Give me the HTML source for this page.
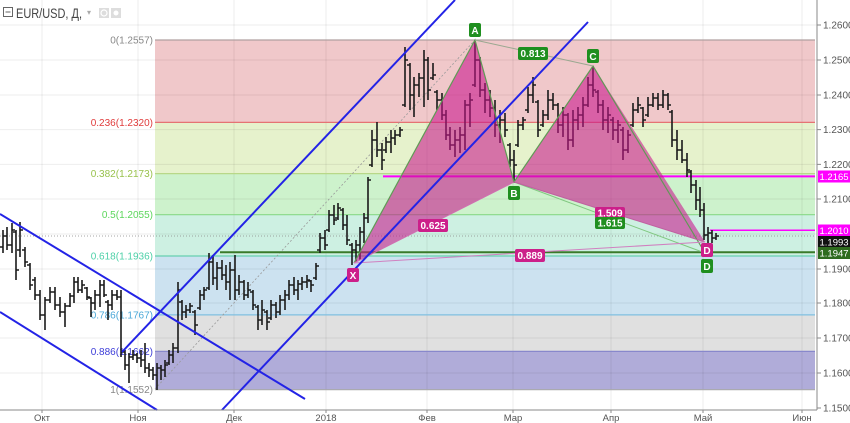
<!DOCTYPE html>
<html><head><meta charset="utf-8"><style>
html,body{margin:0;padding:0;background:#fff;}
svg{display:block;font-family:"Liberation Sans","Noto Sans CJK JP",sans-serif;}
</style></head><body>
<svg width="850" height="423" viewBox="0 0 850 423" xmlns="http://www.w3.org/2000/svg">
<rect width="850" height="423" fill="#fff"/>
<rect x="155" y="40" width="660" height="82.4" fill="#f0c8ca"/>
<rect x="155" y="122.4" width="660" height="51.2" fill="#e6f2cc"/>
<rect x="155" y="173.6" width="660" height="41.1" fill="#cdf2cc"/>
<rect x="155" y="214.7" width="660" height="41.3" fill="#cdf0e2"/>
<rect x="155" y="256" width="660" height="58.9" fill="#cce2f0"/>
<rect x="155" y="314.9" width="660" height="36.5" fill="#e0e0e0"/>
<rect x="155" y="351.4" width="660" height="38.3" fill="#b0acd9"/>
<g stroke="#000" stroke-opacity="0.07" stroke-width="1">
<path d="M42 0V410M138 0V410M234 0V410M326 0V410M427 0V410M513 0V410M611 0V410M703 0V410M802 0V410"/>
<path d="M0 25H817M0 60H817M0 95H817M0 129.6H817M0 164.4H817M0 199H817M0 234H817M0 269H817M0 303H817M0 338H817M0 373H817"/>
</g>
<g stroke-width="1.2">
<line x1="155" y1="40" x2="815" y2="40" stroke="#b0a0a0"/>
<line x1="155" y1="122.4" x2="815" y2="122.4" stroke="#e57373"/>
<line x1="155" y1="173.6" x2="815" y2="173.6" stroke="#b8d888"/>
<line x1="155" y1="214.7" x2="815" y2="214.7" stroke="#88d888"/>
<line x1="155" y1="256" x2="815" y2="256" stroke="#66d0b0"/>
<line x1="155" y1="314.9" x2="815" y2="314.9" stroke="#80c0e0"/>
<line x1="155" y1="351.4" x2="815" y2="351.4" stroke="#8888cc"/>
<line x1="155" y1="389.7" x2="815" y2="389.7" stroke="#aaaaaa"/>
</g>
<g font-size="10" text-anchor="end">
<text x="153" y="43.5" fill="#888">0(1.2557)</text>
<text x="153" y="126" fill="#e03c3c">0.236(1.2320)</text>
<text x="153" y="177" fill="#99c24d">0.382(1.2173)</text>
<text x="153" y="218" fill="#5cd65c">0.5(1.2055)</text>
<text x="153" y="259.5" fill="#4dd0a8">0.618(1.1936)</text>
<text x="153" y="318.5" fill="#4aa8d8">0.786(1.1767)</text>
<text x="153" y="355" fill="#3c3cd8">0.886(1.1662)</text>
<text x="153" y="393" fill="#888">1(1.1552)</text>
</g>
<line x1="155" y1="389" x2="475" y2="40" stroke="#999" stroke-width="0.8" stroke-dasharray="2,2"/>
<line x1="0" y1="236" x2="815" y2="236" stroke="#888" stroke-width="0.8" stroke-dasharray="1,2"/>
<line x1="220" y1="252.2" x2="815" y2="252.2" stroke="#3a7a2a" stroke-width="2"/>
<line x1="383" y1="176.4" x2="815" y2="176.4" stroke="#ff00ff" stroke-width="2"/>
<line x1="710" y1="230.3" x2="815" y2="230.3" stroke="#ff00ff" stroke-width="1.5"/>
<path fill="none" stroke="#1a1a1a" stroke-width="1.6" d="M3 230V253M0 247H3M3 236H6 M7 227V250M4 236H7M7 245H10 M12 223V253M9 245H12M12 230H15 M16 230V280M13 232H16M16 270H19 M20 222V257M17 250H20M20 230H23 M25 247V267M22 250H25M25 262H28 M30 263V290M27 265H30M30 285H33 M35 277V300M32 280H35M35 295H38 M40 290V320M37 295H40M40 315H43 M45 297V330M42 315H45M45 300H48 M50 287V303M47 300H50M50 292H53 M55 287V310M52 292H55M55 305H58 M60 297V317M57 305H60M60 312H63 M65 303V327M62 312H65M65 306H68 M70 293V307M67 306H70M70 296H73 M74 277V303M71 296H74M74 282H77 M78 277V293M75 282H78M78 290H81 M82 280V293M79 290H82M82 285H85 M87 287V300M84 288H87M87 297H90 M91 297V317M88 298H91M91 303H94 M95 290V310M92 303H95M95 295H98 M100 280V307M97 295H100M100 285H103 M104 280V297M101 285H104M104 295H107 M108 300V320M105 302H108M108 305H111 M112 290V310M109 305H112M112 295H115 M117 290V300M114 295H117M117 297H120 M121 290V357M118 297H121M121 352H124 M125 350V370M122 352H125M125 365H128 M129 353V383M126 365H129M129 357H132 M133 350V360M130 357H133M133 355H136 M137 353V363M134 355H137M137 358H140 M141 350V367M138 358H141M141 360H144 M145 343V373M142 360H145M145 368H148 M149 363V377M146 368H149M149 370H152 M153 367V380M150 370H153M153 375H156 M157 363V390M154 375H157M157 368H160 M161 365V380M158 368H161M161 370H164 M165 360V377M162 370H165M165 365H168 M169 350V365M166 363H169M169 355H172 M173 343V363M170 355H173M173 348H176 M178 282V353M175 348H178M178 290H181 M182 300V320M179 302H182M182 312H185 M186 305V318M183 312H186M186 310H189 M190 303V313M187 310H190M190 306H193 M195 310V335M192 312H195M195 325H198 M200 290V310M197 308H200M200 295H203 M204 287V300M201 295H204M204 290H207 M209 253V290M206 288H209M209 262H212 M213 255V285M210 262H213M213 278H216 M217 262V290M214 278H217M217 268H220 M222 260V280M219 268H222M222 275H225 M226 265V290M223 275H226M226 282H229 M230 262V300M227 282H230M230 270H233 M235 255V300M232 270H235M235 290H238 M239 275V295M236 290H239M239 282H242 M244 280V300M241 282H244M244 295H247 M248 282V298M245 295H248M248 290H251 M253 290V310M250 292H253M253 305H256 M258 305V330M255 307H258M258 320H261 M262 300V325M259 320H262M262 310H265 M267 310V330M264 312H267M267 322H270 M271 300V320M268 318H271M271 305H274 M276 302V318M273 305H276M276 312H279 M280 295V315M277 312H280M280 300H283 M285 290V310M282 300H285M285 295H288 M289 280V300M286 295H289M289 285H292 M294 277V295M291 285H294M294 290H297 M298 280V300M295 290H298M298 284H301 M302 277V290M299 284H302M302 282H305 M307 275V288M304 282H307M307 280H310 M311 280V292M308 281H311M311 285H314 M316 263V280M313 278H316M316 266H319 M320 233V253M317 250H320M320 238H323 M325 230V250M322 238H325M325 245H328 M329 210V232M326 230H329M329 215H332 M334 205V225M331 215H334M334 220H337 M338 203V220M335 218H338M338 208H341 M343 208V230M340 210H343M343 225H346 M347 215V245M344 225H347M347 240H350 M352 243V265M349 245H352M352 250H355 M356 240V262M353 250H356M356 245H359 M360 227V260M357 245H360M360 232H363 M364 213V243M361 232H364M364 218H367 M368 177V223M365 218H368M368 180H371 M372 130V167M369 165H372M372 140H375 M377 122V157M374 140H377M377 150H380 M382 143V170M379 150H382M382 160H385 M386 137V153M383 150H386M386 142H389 M391 130V153M388 142H391M391 138H394 M395 130V145M392 138H395M395 135H398 M400 127V137M397 135H400M400 130H403 M405 47V107M402 105H405M405 60H408 M410 63V110M407 65H410M410 95H413 M414 77V117M411 95H414M414 85H417 M419 73V97M416 85H419M419 78H422 M424 50V107M421 78H424M424 60H427 M428 57V100M425 60H428M428 90H431 M433 63V80M430 78H433M433 75H436 M437 90V110M434 92H437M437 100H440 M442 93V120M439 100H442M442 115H445 M446 110V140M443 115H446M446 135H449 M450 127V150M447 135H450M450 145H453 M455 130V157M452 145H455M455 140H458 M460 127V153M457 140H460M460 135H463 M465 100V150M462 135H465M465 105H468 M470 93V127M467 105H470M470 100H473 M475 40V87M472 85H475M475 60H478 M480 57V97M477 60H480M480 90H483 M485 83V113M482 90H485M485 100H488 M490 90V117M487 100H490M490 108H493 M495 100V137M492 108H495M495 125H498 M500 110V143M497 125H500M500 120H503 M505 113V137M502 120H505M505 130H508 M510 143V167M507 145H510M510 160H513 M514 150V183M511 160H514M514 165H517 M518 120V147M515 145H518M518 125H521 M523 117V130M520 125H523M523 120H526 M528 87V113M525 110H528M528 95H531 M533 77V103M530 95H533M533 85H536 M538 100V137M535 102H538M538 130H541 M543 110V127M540 125H543M543 115H546 M548 90V120M545 115H548M548 100H551 M553 93V110M550 100H553M553 105H556 M558 103V133M555 105H558M558 125H561 M563 107V137M560 125H563M563 115H566 M568 113V150M565 115H568M568 140H571 M573 110V147M570 140H573M573 120H576 M578 107V130M575 120H578M578 115H581 M583 97V127M580 115H583M583 105H586 M588 77V107M585 105H588M588 85H591 M593 66V97M590 85H593M593 90H596 M598 90V113M595 92H598M598 105H601 M603 100V130M600 105H603M603 120H606 M608 107V133M605 120H608M608 115H611 M613 117V140M610 120H613M613 130H616 M618 120V143M615 130H618M618 125H621 M623 127V160M620 130H623M623 150H626 M628 130V153M625 150H628M628 135H631 M633 103V127M630 125H633M633 110H636 M638 97V113M635 110H638M638 105H641 M643 107V127M640 108H643M643 120H646 M648 97V117M645 115H648M648 105H651 M653 93V107M650 105H653M653 98H656 M658 93V110M655 98H658M658 105H661 M663 90V108M660 105H663M663 95H666 M668 93V110M665 95H668M668 105H671 M672 110V147M669 112H672M672 140H675 M677 130V160M674 140H677M677 150H680 M682 140V163M679 150H682M682 160H685 M687 153V177M684 160H687M687 170H690 M691 170V193M688 172H691M691 185H694 M696 180V210M693 185H696M696 200H699 M700 187V217M697 200H700M700 210H703 M704 203V240M701 210H704M704 235H707 M708 227V247M705 235H708M708 233H711 M712 230V243M709 233H712M712 238H715 M716 233V240M713 238H716M716 236H719"/>
<polygon points="354,263 475,40 514,182" fill="rgb(200,20,140)" fill-opacity="0.58"/>
<polygon points="514,182 593,66 705,242" fill="rgb(200,20,140)" fill-opacity="0.58"/>
<g fill="none" stroke-width="1">
<path d="M354 263L475 40L514 182L593 66L705 253" stroke="#5f9a55" stroke-width="1.2"/>
<line x1="475" y1="40" x2="593" y2="66" stroke="#9aa890"/>
<line x1="354" y1="263" x2="514" y2="182" stroke="#d070b0"/>
<line x1="514" y1="182" x2="705" y2="253" stroke="#80c880"/>
<line x1="514" y1="182" x2="705" y2="242" stroke="#c060a0"/>
<line x1="354" y1="263" x2="705" y2="242" stroke="#d080c0"/>
</g>
<g stroke="#2323e6" stroke-width="2" fill="none">
<line x1="0" y1="214" x2="305" y2="399"/>
<line x1="0" y1="312" x2="157" y2="410"/>
<line x1="122" y1="352" x2="455" y2="0"/>
<line x1="222" y1="410" x2="588" y2="22"/>
</g>
<g font-size="10" font-weight="bold" fill="#fff" text-anchor="middle">
<rect x="469" y="23" width="12" height="14" rx="2" fill="#1f8f1f"/><text x="475" y="34">A</text>
<rect x="508" y="186" width="12" height="14" rx="2" fill="#1f8f1f"/><text x="514" y="197">B</text>
<rect x="587" y="49" width="12" height="14" rx="2" fill="#1f8f1f"/><text x="593" y="60">C</text>
<rect x="347" y="268" width="12" height="14" rx="2" fill="#cc1f8a"/><text x="353" y="279">X</text>
<rect x="701" y="243" width="12" height="14" rx="2" fill="#cc1f8a"/><text x="707" y="254">D</text>
<rect x="701" y="259" width="12" height="14" rx="2" fill="#1f8f1f"/><text x="707" y="270">D</text>
<rect x="518" y="47" width="30" height="13" rx="2" fill="#1f8f1f"/><text x="533" y="57">0.813</text>
<rect x="418" y="219" width="30" height="13" rx="2" fill="#cc1f8a"/><text x="433" y="229">0.625</text>
<rect x="595" y="207" width="30" height="12" rx="2" fill="#cc1f8a"/><text x="610" y="216.5">1.509</text>
<rect x="595" y="217" width="30" height="12" rx="2" fill="#1f8f1f"/><text x="610" y="226.5">1.615</text>
<rect x="515" y="249" width="30" height="13" rx="2" fill="#cc1f8a"/><text x="530" y="259">0.889</text>
</g>
<line x1="817" y1="0" x2="817" y2="410" stroke="#8a8a8a" stroke-width="1"/>
<line x1="0" y1="410" x2="817" y2="410" stroke="#8a8a8a" stroke-width="1"/>
<g stroke="#8a8a8a" stroke-width="1">
<path d="M817 25H821M817 60H821M817 95H821M817 129.6H821M817 164.4H821M817 199H821M817 269H821M817 303H821M817 338H821M817 373H821M817 408H821"/>
<path d="M42 410V413M138 410V413M234 410V413M326 410V413M427 410V413M513 410V413M611 410V413M703 410V413M802 410V413"/>
</g>
<g font-size="10" fill="#555">
<text x="823" y="28.5">1.2600</text>
<text x="823" y="63.5">1.2500</text>
<text x="823" y="98.5">1.2400</text>
<text x="823" y="133">1.2300</text>
<text x="823" y="168">1.2200</text>
<text x="823" y="202.5">1.2100</text>
<text x="823" y="272.5">1.1900</text>
<text x="823" y="306.5">1.1800</text>
<text x="823" y="341.5">1.1700</text>
<text x="823" y="376.5">1.1600</text>
<text x="823" y="411.5">1.1500</text>
</g>
<g font-size="9.5" fill="#fff">
<rect x="818" y="170.5" width="32" height="12" fill="#ff00ff"/><text x="819.5" y="180">1.2165</text>
<rect x="818" y="224.5" width="32" height="12" fill="#ff00ff"/><text x="819.5" y="234">1.2010</text>
<rect x="818" y="236" width="32" height="11.5" fill="#111"/><text x="819.5" y="245.5">1.1993</text>
<rect x="818" y="247" width="32" height="12" fill="#2e6b1e"/><text x="819.5" y="256.5">1.1947</text>
</g>
<g font-size="9.5" fill="#555" text-anchor="middle">
<text x="42" y="421">Окт</text>
<text x="138" y="421">Ноя</text>
<text x="234" y="421">Дек</text>
<text x="326" y="421">2018</text>
<text x="427" y="421">Фев</text>
<text x="513" y="421">Мар</text>
<text x="611" y="421">Апр</text>
<text x="703" y="421">Май</text>
<text x="802" y="421">Июн</text>
</g>
<rect x="3.5" y="7.5" width="9" height="9" fill="none" stroke="#666" stroke-width="1"/>
<line x1="5.5" y1="12" x2="10.5" y2="12" stroke="#666" stroke-width="1"/>
<text x="16" y="18" font-size="14" fill="#444" textLength="66" lengthAdjust="spacingAndGlyphs">EUR/USD, Д,</text>
<text x="87" y="15" font-size="8" fill="#aaa">▾</text>
<rect x="99" y="8" width="10" height="10" fill="#ddd"/>
<circle cx="104" cy="13" r="3" fill="none" stroke="#fff" stroke-width="1.2"/>
<rect x="111" y="8" width="10" height="10" fill="#ddd"/>
<circle cx="116" cy="13" r="2.5" fill="#fff"/>
</svg>
</body></html>
